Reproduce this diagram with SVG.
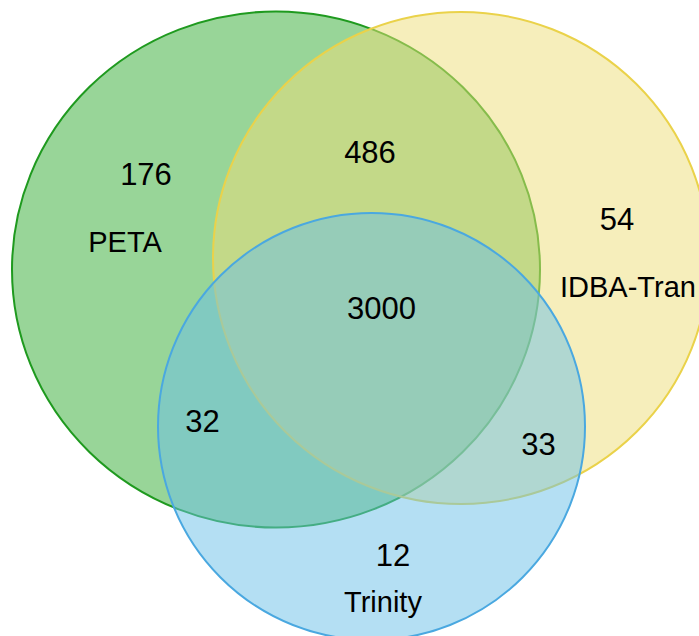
<svg xmlns="http://www.w3.org/2000/svg" width="699" height="636" viewBox="0 0 699 636">
<style>
.set{stroke-width:2;fill-opacity:0.5}
.num{font-family:"Liberation Sans",Arial,sans-serif;font-size:31px;fill:#000;text-anchor:middle}
.lab{font-family:"Liberation Sans",Arial,sans-serif;font-size:29px;fill:#000;text-anchor:middle}
</style>
<rect width="699" height="636" fill="#fff"/>
<g id="peta">
<ellipse class="set" cx="276" cy="269.5" rx="264" ry="258" fill="#31ab31" stroke="#1f9a1f"/>
</g>
<g id="idba">
<ellipse class="set" cx="461" cy="258" rx="248" ry="246" fill="#eddd77" stroke="#ead24a"/>
</g>
<g id="trinity">
<circle class="set" cx="371.5" cy="426.5" r="213.5" fill="#69bfe7" stroke="#4aa8e0"/>
</g>
<g id="labels">
<text class="num" x="146" y="185">176</text>
<text class="lab" x="125" y="252">PETA</text>
<text class="num" x="370" y="163">486</text>
<text class="num" x="381.5" y="319">3000</text>
<text class="num" x="617" y="230">54</text>
<text class="lab" x="560" y="297" style="text-anchor:start">IDBA-Tran</text>
<text class="num" x="202.5" y="431.5">32</text>
<text class="num" x="538.5" y="455">33</text>
<text class="num" x="393" y="566">12</text>
<text class="lab" x="383" y="612">Trinity</text>
</g>
</svg>
